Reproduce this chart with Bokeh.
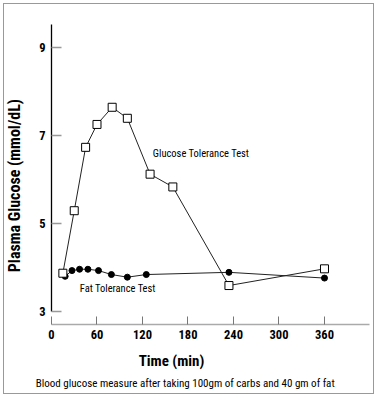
import math
from bokeh.plotting import figure
from bokeh.models import Range1d, FixedTicker, Label
from bokeh.embed import file_html
from bokeh.resources import INLINE

# Data
glucose_time = [15, 30, 45, 60, 80, 100, 130, 160, 234, 360]
glucose_value = [3.88, 5.30, 6.74, 7.26, 7.65, 7.40, 6.13, 5.84, 3.60, 3.98]
fat_time = [18, 27, 37, 48, 62, 79, 100, 125, 234, 360]
fat_value = [3.81, 3.94, 3.97, 3.97, 3.94, 3.85, 3.79, 3.85, 3.90, 3.77]
x_ticks = [0, 60, 120, 180, 240, 300, 360]
y_ticks = [3, 5, 7, 9]

FONT = "Roboto Condensed, Roboto"

# the frame fills the whole canvas; the axes sit at fixed locations inside it
p = figure(width=371, height=391,
           x_range=Range1d(-61.98, 427.27), y_range=Range1d(1.102, 9.985),
           output_backend="svg", toolbar_location=None,
           min_border_left=0, min_border_right=0,
           min_border_top=0, min_border_bottom=0,
           background_fill_color="white", border_fill_color="white")
p.styles = {"border": "1px solid #999999", "margin": "3px"}
p.outline_line_color = None
p.xgrid.visible = False
p.ygrid.visible = False

# y axis
ya = p.yaxis[0]
ya.fixed_location = 0
ya.ticker = FixedTicker(ticks=y_ticks)
ya.bounds = (3, 9.53)
ya.axis_line_color = "black"
ya.axis_line_width = 1.3
ya.major_tick_in = 10
ya.major_tick_out = 0
ya.major_tick_line_color = "#999999"
ya.major_tick_line_width = 1.5
ya.minor_tick_line_color = None
ya.major_label_text_font = FONT
ya.major_label_text_font_size = "12.5px"
ya.major_label_text_font_style = "bold"
ya.major_label_text_color = "black"
ya.major_label_standoff = 6

# x axis
xa = p.xaxis[0]
xa.fixed_location = 2.715
xa.ticker = FixedTicker(ticks=x_ticks)
xa.bounds = (0, 419.3)
xa.axis_line_color = "#aaaaaa"
xa.axis_line_width = 1.5
xa.major_tick_in = 8
xa.major_tick_out = 0
xa.major_tick_line_color = "#777777"
xa.major_tick_line_width = 1
xa.minor_tick_line_color = None
xa.major_label_text_font = FONT
xa.major_label_text_font_size = "12.5px"
xa.major_label_text_font_style = "bold"
xa.major_label_text_color = "black"
xa.major_label_standoff = 5

# series
p.line(fat_time, fat_value, line_color="#222222", line_width=1)
p.scatter(fat_time, fat_value, marker="circle", size=6, fill_color="black", line_color="black")
p.line(glucose_time, glucose_value, line_color="#222222", line_width=1)
p.scatter(glucose_time, glucose_value, marker="square", size=8,
          fill_color="white", line_color="black", line_width=1)

p.add_layout(Label(x=133.6, y=6.61, text="Glucose Tolerance Test", text_font=FONT,
                   text_font_size="10.5px", text_baseline="middle", text_align="left",
                   text_color="black"))
p.add_layout(Label(x=37.3, y=3.54, text="Fat Tolerance Test", text_font=FONT,
                   text_font_size="10.5px", text_baseline="middle", text_align="left",
                   text_color="black"))

# axis titles and caption
p.add_layout(Label(x=-48.8, y=5.87, angle=math.pi / 2,
                   text="Plasma Glucose (mmol/dL)",
                   text_font=FONT, text_font_size="16px", text_font_style="bold",
                   text_align="center", text_baseline="middle", text_color="black"))
p.add_layout(Label(x=158.2, y=1.875, text="Time (min)", text_font=FONT,
                   text_font_size="15px", text_font_style="bold",
                   text_align="center", text_baseline="middle", text_color="black"))
p.add_layout(Label(x=178.0, y=1.375,
                   text="Blood  glucose measure after taking 100gm of carbs and 40 gm of fat",
                   text_font=FONT, text_font_size="11px", text_align="center",
                   text_baseline="middle", text_color="black"))

open("out.html", "w").write(file_html(p, INLINE))
